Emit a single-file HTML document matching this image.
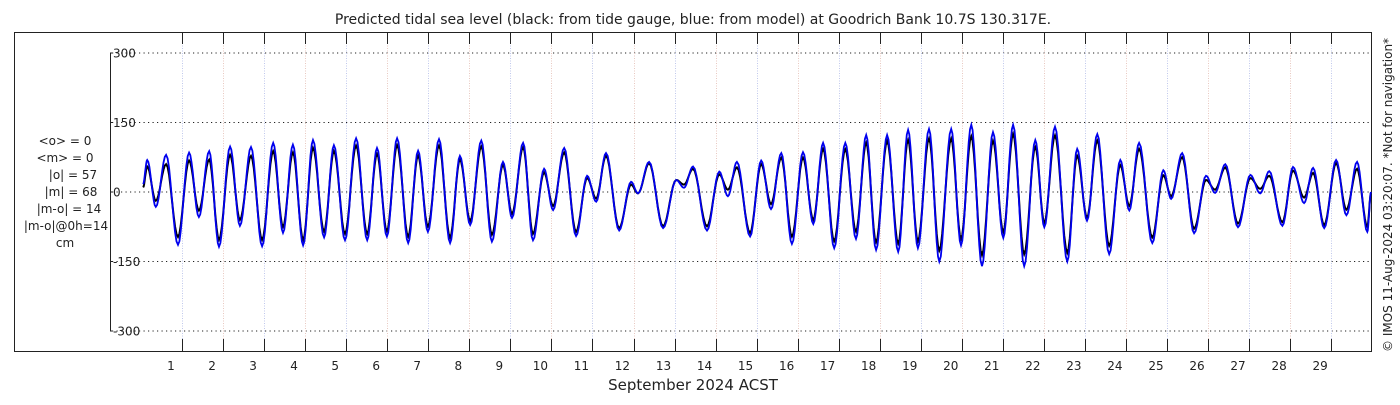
<!DOCTYPE html>
<html><head><meta charset="utf-8"><style>
body{margin:0;background:#fff;width:1400px;height:400px;overflow:hidden;font-family:"Liberation Sans","DejaVu Sans",sans-serif}
svg text{font-family:"DejaVu Sans","Liberation Sans",sans-serif;fill:#222}
</style></head><body>
<svg id="chart" width="1400" height="400" xmlns="http://www.w3.org/2000/svg">
<text x="693" y="24" font-size="14" text-anchor="middle">Predicted tidal sea level (black: from tide gauge, blue: from model) at Goodrich Bank 10.7S 130.317E.</text>
<rect x="14.5" y="32.5" width="1357" height="319" fill="none" stroke="#222" stroke-width="1"/>
<g id="grid"></g>
<g id="series"></g>
<g id="axes"></g>
<g font-size="12" text-anchor="middle">
<text x="65" y="145">&lt;o&gt; = 0</text>
<text x="65" y="162">&lt;m&gt; = 0</text>
<text x="73" y="179">|o| = 57</text>
<text x="71" y="196">|m| = 68</text>
<text x="69" y="213">|m-o| = 14</text>
<text x="66" y="230">|m-o|@0h=14</text>
<text x="65" y="247">cm</text>
</g>
<text x="693" y="390" font-size="15" text-anchor="middle">September 2024 ACST</text>
<text transform="translate(1392,352) rotate(-90)" font-size="12">© IMOS 11-Aug-2024 03:20:07. *Not for navigation*</text>
</svg>
<script>
const times=[0.32,0.42,0.63,0.88,1.17,1.44,1.68,1.93,2.17,2.44,2.68,2.95,3.22,3.49,3.73,3.97,4.22,4.46,4.73,4.97,5.24,5.51,5.78,6.02,6.26,6.51,6.78,7.02,7.26,7.53,7.80,8.04,8.29,8.56,8.82,9.09,9.31,9.58,9.82,10.09,10.31,10.58,10.87,11.14,11.36,11.60,11.92,12.21,12.38,12.65,12.99,13.31,13.50,13.72,14.06,14.36,14.57,14.79,15.11,15.38,15.62,15.87,16.13,16.40,16.65,16.89,17.16,17.43,17.69,17.94,18.18,18.45,18.72,18.96,19.20,19.47,19.72,20.01,20.25,20.50,20.76,21.03,21.28,21.52,21.79,22.06,22.28,22.54,22.84,23.08,23.32,23.57,23.86,24.13,24.35,24.59,24.91,25.18,25.37,25.64,25.93,26.22,26.44,26.69,27.00,27.30,27.54,27.76,28.08,28.34,28.61,28.83,29.10,29.39,29.64,29.90,30.15,30.24];
const modelLevels=[17,69,-32,80,-114,85,-54,88,-118,98,-73,97,-117,106,-88,102,-115,112,-98,101,-104,116,-104,95,-96,116,-110,89,-86,114,-110,78,-71,111,-107,65,-56,106,-104,50,-39,95,-95,35,-21,84,-83,22,-3,65,-78,26,9,55,-83,44,-9,65,-96,68,-37,84,-112,86,-69,106,-121,106,-101,123,-125,123,-129,134,-121,136,-150,136,-115,145,-160,129,-99,145,-160,112,-76,141,-150,93,-62,125,-134,69,-40,106,-110,47,-15,84,-89,35,-2,60,-76,37,-3,45,-73,54,-24,52,-78,69,-50,65,-86,0];
const gaugeLevels=[10,55,-19,60,-97,68,-40,70,-103,80,-60,78,-103,88,-75,85,-103,95,-85,88,-90,100,-90,82,-84,101,-96,78,-74,100,-98,70,-62,98,-92,58,-47,96,-90,42,-30,85,-86,30,-14,78,-78,16,-3,62,-74,26,16,50,-74,38,5,53,-88,60,-26,74,-96,74,-60,93,-106,92,-85,106,-108,110,-111,112,-106,115,-126,115,-101,120,-136,110,-86,125,-134,97,-66,122,-131,78,-55,111,-116,58,-30,93,-98,36,-9,75,-79,26,5,53,-68,30,7,35,-65,46,-12,41,-71,62,-38,50,-75,-3];
const yTicks=[300,150,0,-150,-300];
const dayLabels=[1,2,3,4,5,6,7,8,9,10,11,12,13,14,15,16,17,18,19,20,21,22,23,24,25,26,27,28,29];
const tickOffset=0.27;
const NS='http://www.w3.org/2000/svg';
function xs(t){return 171+(t-1)*41.04;}
function ys(v){return 192-v*0.4633;}
function mk(tag,attrs,parent){const e=document.createElementNS(NS,tag);for(const k in attrs)e.setAttribute(k,attrs[k]);parent.appendChild(e);return e;}
const grid=document.getElementById('grid'),axes=document.getElementById('axes'),ser=document.getElementById('series');
yTicks.forEach(v=>{
 const l=mk('line',{x1:112,x2:1371,y1:ys(v),y2:ys(v),stroke:'#222','stroke-dasharray':'1.2 3.3','stroke-width':1.1},grid);
 
 
 const tk=mk('line',{x1:110,x2:113,y1:ys(v),y2:ys(v),stroke:'#222'},axes);
 
 
 const tx=mk('text',{x:113,y:ys(v)+4.5,'font-size':12},axes);
 tx.textContent=(v<0?'-':'')+Math.abs(v);
 
 
});
const ya=mk('line',{x1:110.5,x2:110.5,y1:ys(300),y2:ys(-300),stroke:'#222'},axes);


dayLabels.forEach((d,i)=>{
 const x=Math.round(xs(d+tickOffset))+0.5;
 const g=mk('line',{x1:x,x2:x,y1:33,y2:351,stroke:(i%2?'#e8c8c0':'#c0c8ec'),'stroke-dasharray':'1 1.5','stroke-width':1},grid);
 
 
 const t1=mk('line',{x1:x,x2:x,y1:33,y2:44,stroke:'#222'},axes);
 
 
 const t2=mk('line',{x1:x,x2:x,y1:339,y2:351,stroke:'#222'},axes);
 
 
 const tx=mk('text',{x:xs(d),y:370,'font-size':12,'text-anchor':'middle'},axes);
 tx.textContent=d;
 
 
});
function pathFor(vals){
 let d='M'+xs(times[0]).toFixed(1)+','+ys(vals[0]).toFixed(1);
 for(let i=0;i<times.length-1;i++){
  const t0=times[i],t1=times[i+1],v0=vals[i],v1=vals[i+1];
  for(let k=1;k<=8;k++){const f=k/8;const w=(1-Math.cos(Math.PI*f))/2;
   d+=' L'+xs(t0+(t1-t0)*f).toFixed(1)+','+ys(v0+(v1-v0)*w).toFixed(1);}
 }
 return d;
}
const pg=mk('path',{d:pathFor(gaugeLevels),fill:'none',stroke:'#000','stroke-width':2},ser);


const pm=mk('path',{d:pathFor(modelLevels),fill:'none',stroke:'#0000ee','stroke-width':1.8},ser);


</script>
</body></html>
